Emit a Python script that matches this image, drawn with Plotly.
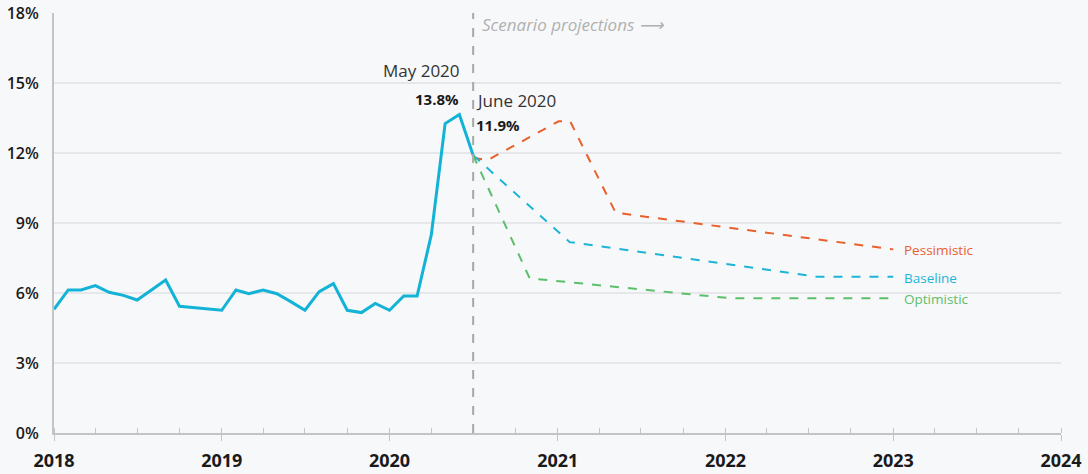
import plotly.graph_objects as go

# Unemployment rate, observed (monthly points, plotted at start of following month)
hist_dates = [
    "2018-01-01", "2018-02-01", "2018-03-01", "2018-04-01", "2018-05-01", "2018-06-01",
    "2018-07-01", "2018-08-01", "2018-09-01", "2018-10-01",
    "2019-01-01", "2019-02-01", "2019-03-01", "2019-04-01", "2019-05-01", "2019-06-01",
    "2019-07-01", "2019-08-01", "2019-09-01", "2019-10-01", "2019-11-01", "2019-12-01",
    "2020-01-01", "2020-02-01", "2020-03-01", "2020-04-01", "2020-05-01", "2020-06-01",
    "2020-07-01",
]
hist_values = [
    5.3, 6.13, 6.13, 6.32, 6.03, 5.9,
    5.7, 6.13, 6.56, 5.43,
    5.26, 6.13, 5.97, 6.13, 5.97, 5.62,
    5.26, 6.06, 6.4, 5.26, 5.16, 5.55,
    5.26, 5.87, 5.87, 8.5, 13.26, 13.65,
    11.9,
]

# Scenario projections
pess_dates = ["2020-07-01", "2020-08-01", "2021-01-03", "2021-01-28", "2021-05-07", "2023-01-01"]
pess_values = [11.8, 11.69, 13.36, 13.36, 9.44, 7.87]
base_dates = ["2020-07-01", "2021-01-27", "2022-07-20", "2023-01-01"]
base_values = [11.9, 8.18, 6.7, 6.7]
opt_dates = ["2020-07-01", "2020-11-01", "2022-01-14", "2023-01-01"]
opt_values = [11.9, 6.63, 5.77, 5.77]

scenarios = [
    ("Pessimistic", pess_dates, pess_values, "#e8602c"),
    ("Baseline", base_dates, base_values, "#1db4d8"),
    ("Optimistic", opt_dates, opt_values, "#5bbf6b"),
]

FONT = "Open Sans"
fig = go.Figure()

fig.add_trace(go.Scatter(x=hist_dates, y=hist_values, mode="lines",
                         line=dict(color="#12b3d6", width=3), showlegend=False))

for name, xs, ys, color in scenarios:
    fig.add_trace(go.Scatter(x=xs, y=ys, mode="lines",
                             line=dict(color=color, width=2, dash="dash"),
                             showlegend=False))
    fig.add_annotation(x=xs[-1], y=ys[-1], text=name, showarrow=False,
                       xanchor="left", xshift=9, yshift=-1,
                       font=dict(family=FONT, size=13.5, color=color))

# projection divider
fig.add_shape(type="line", x0="2020-07-01", x1="2020-07-01", y0=0, y1=18,
              line=dict(color="#a8a8a8", width=2, dash="dash"))

fig.add_annotation(x="2020-07-01", y=17.5, text="Scenario projections ⟶", showarrow=False,
                   xanchor="left", xshift=7,
                   font=dict(family=FONT, size=17, color="#b0b0b0", style="italic"))
fig.add_annotation(x="2020-06-01", y=15.55, text="May 2020", showarrow=False,
                   xanchor="right", xshift=3,
                   font=dict(family=FONT, size=17, color="#333333"))
fig.add_annotation(x="2020-06-01", y=14.3, text="<b>13.8%</b>", showarrow=False,
                   xanchor="right", xshift=2,
                   font=dict(family=FONT, size=15, color="#1a1a1a"))
fig.add_annotation(x="2020-07-01", y=14.25, text="June 2020", showarrow=False,
                   xanchor="left", xshift=1,
                   font=dict(family=FONT, size=17, color="#333333"))
fig.add_annotation(x="2020-07-01", y=13.2, text="<b>11.9%</b>", showarrow=False,
                   xanchor="left", xshift=1,
                   font=dict(family=FONT, size=15, color="#1a1a1a"))

fig.update_xaxes(
    type="date", range=["2018-01-01", "2024-01-01"],
    dtick="M12", tickformat="%Y", automargin=False,
    showgrid=False, zeroline=False,
    showline=True, linecolor="#c4c4c4", linewidth=2,
    ticks="outside", ticklen=6, tickcolor="#c4c4c4", tickwidth=1,
    ticklabelstandoff=4,
    minor=dict(dtick="M3", ticks="inside", ticklen=5, tickcolor="#c4c4c4", showgrid=False),
    tickfont=dict(family=FONT, size=18, color="#1a1a1a", weight="bold"),
)
fig.update_yaxes(
    range=[0, 18], dtick=3, ticksuffix="%", automargin=False,
    showgrid=True, gridcolor="#e6e7ea", gridwidth=2, zeroline=False,
    showline=True, linecolor="#c4c4c4", linewidth=2,
    ticklabelstandoff=10,
    tickfont=dict(family=FONT, size=16, color="#1a1a1a", weight=600),
)
fig.update_layout(
    width=1088, height=474,
    margin=dict(l=54, r=27, t=13, b=41),
    paper_bgcolor="#f7f8fa", plot_bgcolor="#f7f8fa",
    font=dict(family=FONT),
)
# drop the default 8px body margin so the figure fills the window
fig.write_html("out.html", config={"displayModeBar": False},
               post_script="document.body.style.margin='0';")
